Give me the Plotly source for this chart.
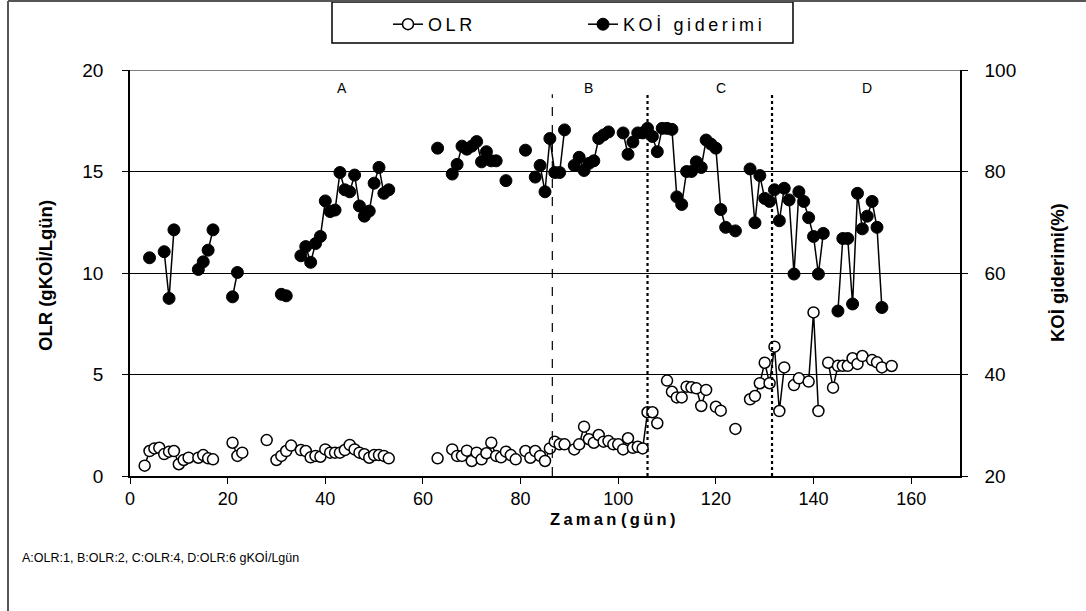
import plotly.graph_objects as go

# KOİ giderimi (%) by day
koi_days = [4, 7, 8, 9, 14, 15, 16, 17, 21, 22, 31, 32, 35, 36, 37, 38, 39, 40, 41, 42,
            43, 44, 45, 46, 47, 48, 49, 50, 51, 52, 53, 63, 66, 67, 68, 69, 70, 71, 72, 73,
            74, 75, 77, 81, 83, 84, 85, 86, 87, 88, 89, 91, 92, 93, 94, 95, 96, 97, 98, 101,
            102, 103, 104, 105, 106, 107, 108, 109, 110, 111, 112, 113, 114, 115, 116, 117, 118, 119, 120, 121,
            122, 124, 127, 128, 129, 130, 131, 132, 133, 134, 135, 136, 137, 138, 139, 140, 141, 142, 145, 146,
            147, 148, 149, 150, 151, 152, 153, 154]
koi_vals = [63.0, 64.2, 55.0, 68.5, 60.7, 62.2, 64.5, 68.5, 55.3, 60.1, 55.8, 55.5, 63.4, 65.2, 62.1, 65.8, 67.2, 74.2, 72.1, 72.4,
            79.8, 76.4, 76.0, 79.3, 73.2, 71.2, 72.2, 77.7, 80.8, 75.7, 76.4, 84.6, 79.5, 81.4, 85.0, 84.4, 85.0, 85.9, 81.9, 83.9,
            82.1, 82.1, 78.2, 84.2, 78.9, 81.2, 76.0, 86.5, 79.8, 79.8, 88.2, 81.2, 82.8, 80.2, 81.6, 82.1, 86.5, 87.2, 87.8, 87.6,
            83.4, 85.8, 87.6, 87.6, 88.5, 86.9, 83.9, 88.5, 88.5, 88.3, 75.0, 73.5, 80.0, 80.0, 81.9, 80.8, 86.2, 85.4, 84.6, 72.5,
            69.0, 68.3, 80.5, 69.9, 79.2, 74.7, 74.1, 76.4, 70.3, 76.7, 74.4, 59.8, 76.0, 74.1, 70.9, 67.2, 59.8, 67.8, 52.5, 66.8,
            66.8, 53.9, 75.7, 68.7, 71.2, 74.1, 69.0, 53.2]

# OLR (gKOİ/Lgün) by day
olr_days = [3, 4, 5, 6, 7, 8, 9, 10, 11, 12, 14, 15, 16, 17, 21, 22, 23, 28, 30, 31,
            32, 33, 35, 36, 37, 38, 39, 40, 41, 42, 43, 44, 45, 46, 47, 48, 49, 50, 51, 52,
            53, 63, 66, 67, 68, 69, 70, 71, 72, 73, 74, 75, 76, 77, 78, 79, 81, 82, 83, 84,
            85, 86, 87, 88, 89, 91, 92, 93, 94, 95, 96, 97, 98, 99, 100, 101, 102, 103, 104, 105,
            106, 107, 108, 110, 111, 112, 113, 114, 115, 116, 117, 118, 120, 121, 124, 127, 128, 129, 130, 131,
            132, 133, 134, 136, 137, 139, 140, 141, 143, 144, 145, 146, 147, 148, 149, 150, 152, 153, 154, 156]
olr_vals = [0.51, 1.23, 1.36, 1.39, 1.08, 1.20, 1.23, 0.58, 0.79, 0.90, 0.90, 1.03, 0.87, 0.82, 1.64, 0.99, 1.15, 1.77, 0.79, 0.99,
            1.23, 1.50, 1.28, 1.23, 0.92, 0.99, 0.95, 1.31, 1.15, 1.15, 1.15, 1.28, 1.53, 1.31, 1.15, 1.07, 0.90, 1.03, 1.03, 0.99,
            0.87, 0.87, 1.31, 0.99, 0.99, 1.25, 0.74, 1.15, 0.82, 1.12, 1.64, 0.99, 0.92, 1.20, 1.03, 0.82, 1.23, 0.90, 1.23, 0.99,
            0.74, 1.36, 1.69, 1.56, 1.56, 1.31, 1.56, 2.43, 1.81, 1.64, 2.02, 1.69, 1.72, 1.56, 1.56, 1.31, 1.86, 1.39, 1.44, 1.36,
            3.14, 3.14, 2.60, 4.70, 4.15, 3.87, 3.87, 4.40, 4.37, 4.32, 3.45, 4.24, 3.41, 3.22, 2.32, 3.78, 3.94, 4.57, 5.58, 4.57,
            6.37, 3.20, 5.35, 4.48, 4.81, 4.65, 8.06, 3.20, 5.58, 4.35, 5.43, 5.43, 5.43, 5.80, 5.52, 5.91, 5.71, 5.60, 5.35, 5.42]

# Period boundaries (days) and labels
period_bounds = [86.5, 106, 131.5]
period_labels = ["A", "B", "C", "D"]
period_label_x = [43.5, 94, 121, 151]

x_ticks = [0, 20, 40, 60, 80, 100, 120, 140, 160]
left_ticks = [0, 5, 10, 15, 20]
right_ticks = [20, 40, 60, 80, 100]

TS = "\u2009"  # thin space used as letter spacing in a few labels


def spaced(s):
    return TS.join(s)


def with_gaps(days, vals):
    """Insert None between non-consecutive days so the line breaks there."""
    xs, ys = [], []
    for i, (d, v) in enumerate(zip(days, vals)):
        if i > 0 and d - days[i - 1] > 1:
            xs.append(None)
            ys.append(None)
        xs.append(d)
        ys.append(v)
    return xs, ys


FONT = "Liberation Sans, Arial, sans-serif"

ox, oy = with_gaps(olr_days, olr_vals)
kx, ky = with_gaps(koi_days, koi_vals)

fig = go.Figure()
fig.add_trace(go.Scatter(
    x=ox, y=oy, name=spaced("OLR"), mode="lines+markers", connectgaps=False,
    line=dict(color="black", width=1.5),
    marker=dict(symbol="circle", size=11, color="white", line=dict(color="black", width=1.5)),
))
fig.add_trace(go.Scatter(
    x=kx, y=ky, name=spaced("KOİ giderimi"), mode="lines+markers", connectgaps=False, yaxis="y2",
    line=dict(color="black", width=1.5),
    marker=dict(symbol="circle", size=12, color="black", line=dict(color="black", width=1)),
))

W, H = 1086, 611
L, R, T, B = 130, 960, 70, 476


def px(xp):
    return (xp - L) / (R - L)


def py(yp):
    return (B - yp) / (B - T)


shapes = []
for i, b in enumerate(period_bounds):
    shapes.append(dict(type="line", xref="x", yref="y", x0=b, x1=b, y0=0, y1=18.8,
                       line=dict(color="black", width=1.2 if i == 0 else 2.2,
                                 dash="dash" if i == 0 else "dot")))
# top gridline
shapes.append(dict(type="line", xref="paper", yref="y", x0=0, x1=1, y0=20, y1=20,
                   line=dict(color="black", width=1)))
# legend frame
shapes.append(dict(type="rect", xref="paper", yref="paper",
                   x0=px(332), x1=px(793), y0=py(43), y1=py(2),
                   line=dict(color="black", width=1.5), fillcolor="white", layer="below"))
# chart frame, left and top edges
shapes.append(dict(type="line", xref="paper", yref="paper",
                   x0=px(8), x1=px(8), y0=py(611), y1=py(1),
                   line=dict(color="#555555", width=2)))
shapes.append(dict(type="line", xref="paper", yref="paper",
                   x0=px(8), x1=px(1086), y0=py(1), y1=py(1),
                   line=dict(color="#555555", width=2)))


def note(xp, yp, text, size, angle=0, xanchor="center"):
    return dict(x=px(xp), y=py(yp), xref="paper", yref="paper", text=text, showarrow=False,
                xanchor=xanchor, yanchor="middle", textangle=angle,
                font=dict(family=FONT, size=size, color="black"))


annotations = []
for lab, lx in zip(period_labels, period_label_x):
    annotations.append(dict(x=lx, y=19.1, xref="x", yref="y", text=lab, showarrow=False,
                            xanchor="center", yanchor="middle",
                            font=dict(family=FONT, size=14, color="black")))
annotations.append(note(20, 558, "A:OLR:1, B:OLR:2, C:OLR:4, D:OLR:6 gKOİ/Lgün", 12.5, xanchor="left"))
# axis titles
annotations.append(note(612, 519, "<b>" + spaced("Zaman") + " " + spaced("(gün)") + "</b>", 16.5))
annotations.append(note(45, 276, "<b>OLR (gKOİ/Lgün)</b>", 18.5, angle=-90))
annotations.append(note(1057, 273, "<b>KOİ giderimi(%)</b>", 18.5, angle=-90))

fig.update_layout(
    width=W, height=H,
    margin=dict(l=L, r=W - R, t=T, b=H - B, autoexpand=False),
    paper_bgcolor="white", plot_bgcolor="white",
    font=dict(family=FONT, color="black"),
    showlegend=True,
    legend=dict(orientation="h", x=px(388), xanchor="left", y=py(6), yanchor="top",
                borderwidth=0, bgcolor="rgba(0,0,0,0)",
                font=dict(family=FONT, size=18), entrywidth=150, entrywidthmode="pixels"),
    xaxis=dict(range=[0, 170], tickvals=x_ticks, showgrid=False, zeroline=False,
               showline=True, linecolor="black", linewidth=1.5, ticks="outside", ticklen=6,
               tickcolor="black", tickfont=dict(family=FONT, size=18)),
    yaxis=dict(range=[0, 20], tickvals=left_ticks, showgrid=True, gridcolor="black", gridwidth=1,
               zeroline=False, showline=True, linecolor="black", linewidth=1.5, ticks="outside",
               ticklen=6, tickcolor="black", tickfont=dict(family=FONT, size=19),
               ticklabelstandoff=15),
    yaxis2=dict(range=[20, 100], tickvals=right_ticks, overlaying="y", side="right", showgrid=False,
                zeroline=False, showline=True, linecolor="black", linewidth=1.5, ticks="outside",
                ticklen=6, tickcolor="black", tickfont=dict(family=FONT, size=19),
                ticklabelstandoff=13),
    shapes=shapes,
    annotations=annotations,
)

fig.write_html("out.html")
